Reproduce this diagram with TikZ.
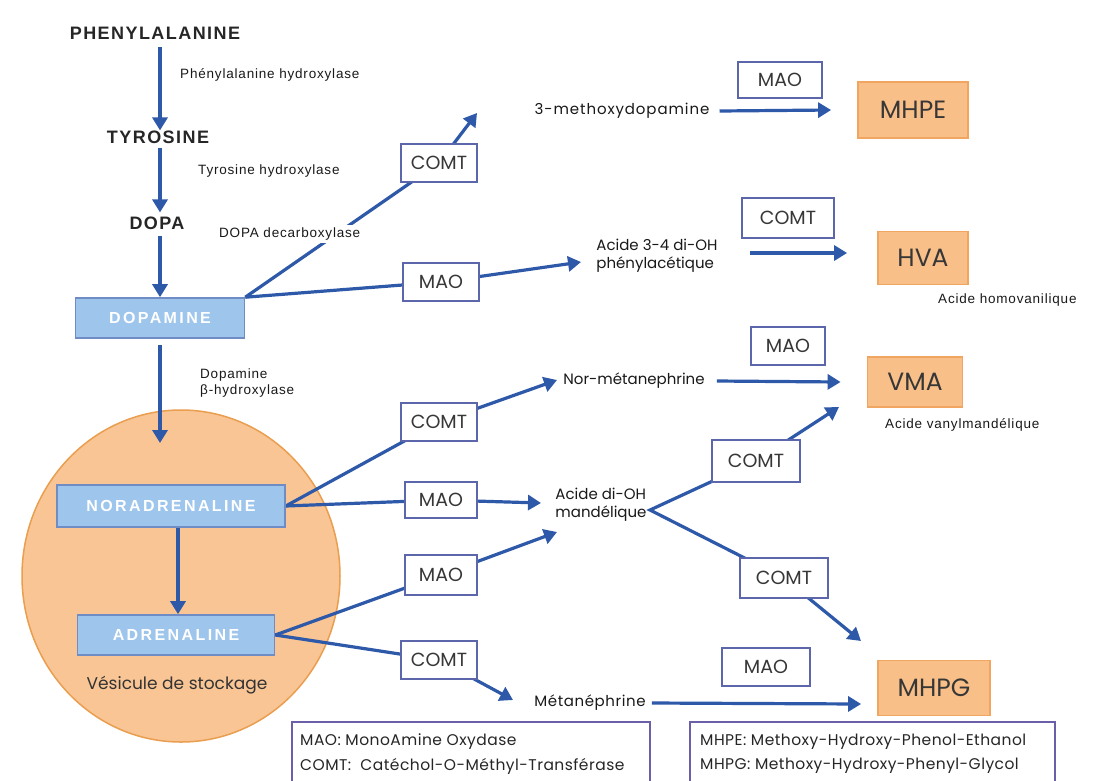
\documentclass[tikz,border=0pt]{standalone}
\usepackage{fontspec}
\setmainfont{Liberation Sans}
\newfontfamily\pop{Poppins}
\usetikzlibrary{arrows.meta}
\definecolor{arblue}{RGB}{46,88,168}
\definecolor{enzb}{RGB}{92,102,170}
\definecolor{txt}{RGB}{55,55,55}
\definecolor{prodf}{RGB}{248,191,136}
\definecolor{prodb}{RGB}{240,166,96}
\definecolor{cellf}{RGB}{158,197,236}
\definecolor{cellb}{RGB}{112,140,196}
\definecolor{vesf}{RGB}{249,197,148}
\definecolor{vesb}{RGB}{233,158,80}
\definecolor{legb}{RGB}{106,95,168}
\pgfdeclarelayer{back}
\pgfdeclarelayer{lines}
\pgfsetlayers{back,lines,main}
\begin{document}
\begin{tikzpicture}[x=1pt,y=-1pt,
  arr/.style={draw=arblue, line width=3.2pt, -{Triangle[length=13pt,width=15pt]}},
  enz/.style={draw=enzb, line width=1.8pt, fill=white, minimum width=76pt, minimum height=38pt, font=\pop\fontsize{19}{21}\selectfont, text=txt, inner sep=0pt},
  prod/.style={draw=prodb, line width=1.8pt, fill=prodf, font=\pop\fontsize{25}{27}\selectfont, text=txt, inner sep=0pt},
  mol/.style={font=\pop\fontsize{15}{18}\selectfont, text=black!90, align=left, inner sep=0pt},
  lab/.style={font=\fontsize{13.5}{16}\selectfont\addfontfeature{LetterSpace=6}, text=black!90, align=left, inner sep=0pt, anchor=west},
  big/.style={font=\bfseries\fontsize{18}{20}\selectfont\addfontfeature{LetterSpace=8}, text=black!85, inner sep=0pt},
  cell/.style={draw=cellb, line width=1.6pt, fill=cellf, text=white, font=\bfseries\fontsize{16}{18}\selectfont\addfontfeature{LetterSpace=15}, inner sep=0pt},
  legtxt/.style={font=\pop\fontsize{15.5}{18}\selectfont\addfontfeature{LetterSpace=3}, text=black!85, anchor=west, inner sep=0pt}]
\useasboundingbox (0,0) rectangle (1115,780);

% main chain
\node[big] (phe) at (155,33) {PHENYLALANINE};
\node[big] (tyr) at (158,137) {TYROSINE};
\node[big] (dopa) at (157,223) {DOPA};
\node[cell, minimum width=169pt, minimum height=40pt] (dop) at (160,318) {DOPAMINE};
\node[cell, minimum width=228pt, minimum height=42pt] (nor) at (171,506) {NORADRENALINE};
\node[cell, minimum width=197pt, minimum height=40pt] (adr) at (176,635) {ADRENALINE};
\node[font=\pop\fontsize{17}{19}\selectfont, text=black!80] (ves) at (177,685) {Vésicule de stockage};
\coordinate (dbh) at (160,443);

\node[lab] (l1) at (180,75) {Phénylalanine hydroxylase};
\node[lab] (l2) at (198,171) {Tyrosine hydroxylase};
\node[lab, fill=white, inner ysep=3pt, inner xsep=1pt] (l3) at (218,234) {DOPA decarboxylase};
\node[lab] (l4) at (200,383) {Dopamine\\β-hydroxylase};

% enzyme boxes
\node[enz] (c1) at (439,163) {COMT};
\node[enz] (m1) at (441,282) {MAO};
\node[enz, minimum width=84pt, minimum height=36pt] (m2) at (780,80) {MAO};
\node[enz, minimum width=92pt, minimum height=40pt] (c2) at (788,218) {COMT};
\node[enz, minimum width=74pt, minimum height=38pt] (m3) at (788,346) {MAO};
\node[enz] (c3) at (439,422) {COMT};
\node[enz, minimum width=72pt, minimum height=36pt] (m4) at (441,500) {MAO};
\node[enz, minimum width=72pt, minimum height=40pt] (m5) at (441,575) {MAO};
\node[enz] (c4) at (439,660) {COMT};
\node[enz, minimum width=88pt, minimum height=42pt] (c5) at (756,461) {COMT};
\node[enz, minimum width=88pt, minimum height=40pt] (c6) at (784,578) {COMT};
\node[enz, minimum width=88pt, minimum height=38pt] (m6) at (766,667) {MAO};

% intermediates
\node[mol, font=\pop\fontsize{15}{18}\selectfont\addfontfeature{LetterSpace=6}] (meth) at (622,111) {3-methoxydopamine};
\node[mol] (dopac) at (657,256) {Acide 3-4 di-OH\\phénylacétique};
\node[mol] (normet) at (634,381) {Nor-métanephrine};
\node[mol] (dhma) at (601,505) {Acide di-OH\\mandélique};
\node[mol, font=\pop\fontsize{15}{18}\selectfont\addfontfeature{LetterSpace=4}] (met) at (590,703) {Métanéphrine};

% products
\node[prod, minimum width=110pt, minimum height=56pt] (mhpe) at (913,110) {MHPE};
\node[prod, minimum width=90pt, minimum height=53pt] (hva) at (923,258) {HVA};
\node[prod, minimum width=95pt, minimum height=50pt] (vma) at (915,382) {VMA};
\node[prod, minimum width=112pt, minimum height=55pt] (mhpg) at (934,688) {MHPG};
\node[lab] (hval) at (938,300) {Acide homovanilique};
\node[lab] (vmal) at (885,425) {Acide vanylmandélique};

% arrow end points
\coordinate (t1) at (477,113);
\coordinate (t2) at (581,262);
\coordinate (t3) at (557,380);
\coordinate (t4) at (541,503);
\coordinate (t5) at (557,532);
\coordinate (t6) at (513,700);
\coordinate (v) at (650,510);
\coordinate (t7) at (839,407);
\coordinate (t8) at (861,641);

\begin{pgfonlayer}{back}
  \fill[white] (0,0) rectangle (1115,780);
  \draw[draw=vesb, line width=1.5pt, fill=vesf] (181,576) ellipse [x radius=159, y radius=166];
\end{pgfonlayer}

\begin{pgfonlayer}{lines}
  \draw[arr] (phe.south -| 160,0) ++(0,8) -- (tyr.north -| 160,0);
  \draw[arr] (tyr.south -| 160,0) ++(0,4) -- ([yshift=4pt]dopa.north -| 160,0);
  \draw[arr] (dopa.south -| 160,0) ++(0,6) -- (dop.north -| 160,0);
  \draw[arr] (dop.south -| 160,0) ++(0,6) -- (dbh);
  \draw[arr] (nor.south -| 178,0) -- (adr.north -| 178,0);
  % dopamine branches
  \draw[arr] (dop.north east) -- (c1.center) -- (t1);
  \draw[arr] (dop.north east) -- (m1.center) -- (t2);
  % horizontal steps
  \draw[arr] (meth.east) ++(10,0) -- ([xshift=-26pt]mhpe.west);
  \draw[arr] ([xshift=32pt,yshift=3pt]dopac.east) -- ([xshift=-30pt,yshift=5pt]hva.west);
  \draw[arr] (normet.east) ++(12,0) -- ([xshift=-26pt]vma.west);
  \draw[arr] (met.east) ++(6,0) -- ([xshift=-16pt,yshift=-16pt]mhpg.west);
  % noradrenaline branches
  \draw[arr] (nor.east) -- (c3.center) -- (t3);
  \draw[arr] (nor.east) -- (m4.center) -- (t4);
  % adrenaline branches
  \draw[arr] (adr.east) -- (m5.center) -- (t5);
  \draw[arr] (adr.east) -- (c4.center) -- (t6);
  % mandelic acid branches
  \draw[arr, line join=miter] (c5.center) -- (v) -- (c6.center) -- (t8);
  \draw[arr] (c5.center) -- (t7);
\end{pgfonlayer}

% legends
\draw[draw=legb, line width=1.8pt] (292,784) -- (292,722) -- (650,722) -- (650,784);
\draw[draw=legb, line width=1.8pt] (690,784) -- (690,722) -- (1055,722) -- (1055,784);
\node[legtxt] (lg1) at (300,742) {MAO: MonoAmine Oxydase};
\node[legtxt] (lg2) at (300,766) {COMT:\ \ Catéchol-O-Méthyl-Transférase};
\node[legtxt] (lg3) at (700,742) {MHPE: Methoxy-Hydroxy-Phenol-Ethanol};
\node[legtxt] (lg4) at (700,766) {MHPG: Methoxy-Hydroxy-Phenyl-Glycol};
\end{tikzpicture}
\end{document}
